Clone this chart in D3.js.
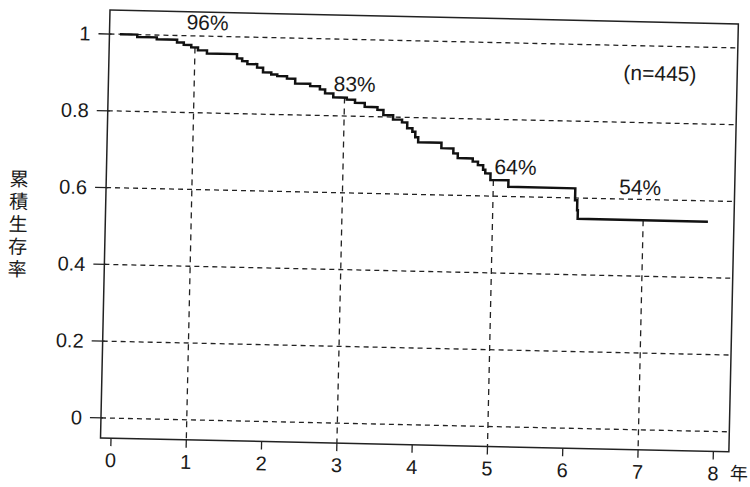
<!DOCTYPE html>
<html>
  <head>
    <meta charset="utf-8">
    <title>累積生存率</title>
    <script src="https://cdn.jsdelivr.net/npm/d3@7"></script>
    <style>
      body {
        margin: 0;
        background-color: white;
      }
      svg text {
        font-family: "Liberation Sans", Arial, sans-serif;
        fill: #1a1a1a;
      }
    </style>
  </head>
  <body>
    <script>
      // Kaplan-Meier steps: time (years) and survival after each step
      const times = [0, 0.23, 0.49, 0.76, 0.85, 0.95, 1.04, 1.16, 1.56, 1.63, 1.70, 1.83, 1.91, 2.02, 2.10,
                     2.23, 2.34, 2.54, 2.67, 2.74, 2.85, 3.03, 3.14, 3.27, 3.44, 3.52, 3.65, 3.77, 3.84,
                     3.91, 3.95, 3.99, 4.30, 4.46, 4.52, 4.72, 4.79, 4.86, 4.89, 4.96, 5.20, 6.09, 6.12,
                     6.13, 7.86];
      const survival = [1, 0.994, 0.989, 0.982, 0.976, 0.970, 0.963, 0.955, 0.944, 0.937, 0.930, 0.921, 0.909, 0.904, 0.900,
                        0.894, 0.882, 0.876, 0.868, 0.858, 0.848, 0.843, 0.835, 0.825, 0.818, 0.805, 0.794, 0.787, 0.772,
                        0.763, 0.749, 0.736, 0.722, 0.709, 0.697, 0.689, 0.680, 0.668, 0.659, 0.642, 0.625, 0.594, 0.568,
                        0.546, 0.546];

      const xTicks = [0, 1, 2, 3, 4, 5, 6, 7, 8];
      const yTicks = [0, 0.2, 0.4, 0.6, 0.8, 1];
      const yTickLabels = ['0', '0.2', '0.4', '0.6', '0.8', '1'];
      const markYears = [1, 3, 5, 7];

      const noteTexts = ['96%', '83%', '64%', '54%', '(n=445)'];
      const noteT = [1.16, 3.13, 5.29, 6.95, 7.18];
      const noteV = [1.036, 0.884, 0.677, 0.632, 0.930];

      const yTitle = ['累', '積', '生', '存', '率'];

      const w = 750;
      const h = 487;
      const box = {left: 110, top: 10, right: 738.5, bottom: 438};

      const x = d3.scaleLinear().domain([0, 8]).range([120.5, 723]);
      const y = d3.scaleLinear().domain([0, 1]).range([418, 34]);

      const svg = d3.select('body')
                    .append('svg')
                    .attr('width', w)
                    .attr('height', h);

      // the printed page sits slightly askew
      const g = svg.append('g')
                   .attr('transform', `rotate(1.27, ${box.left}, ${box.top})`);

      // horizontal grid with little ticks poking out left
      g.selectAll('.hgrid')
       .data(yTicks)
       .enter()
       .append('line')
       .attr('class', 'hgrid')
       .attr('x1', box.left)
       .attr('x2', box.right)
       .attr('y1', d => y(d))
       .attr('y2', d => y(d))
       .style('stroke', '#222')
       .style('stroke-width', 1.3)
       .style('stroke-dasharray', '5,4');

      g.selectAll('.ytick')
       .data(yTicks)
       .enter()
       .append('line')
       .attr('class', 'ytick')
       .attr('x1', box.left - 11)
       .attr('x2', box.left + 2)
       .attr('y1', d => y(d))
       .attr('y2', d => y(d))
       .style('stroke', '#222')
       .style('stroke-width', 1.3);

      g.selectAll('.ylabel')
       .data(yTicks)
       .enter()
       .append('text')
       .attr('class', 'ylabel')
       .attr('x', box.left - 19)
       .attr('y', d => y(d) + 7)
       .attr('text-anchor', 'end')
       .style('font-size', '20px')
       .text((d, i) => yTickLabels[i]);

      // survival at a given time
      const survAt = t => survival[d3.bisectRight(times, t) - 1];

      g.selectAll('.vgrid')
       .data(markYears)
       .enter()
       .append('line')
       .attr('class', 'vgrid')
       .attr('x1', d => x(d))
       .attr('x2', d => x(d))
       .attr('y1', d => y(survAt(d)))
       .attr('y2', box.bottom)
       .style('stroke', '#222')
       .style('stroke-width', 1.3)
       .style('stroke-dasharray', '6,5');

      // x ticks below frame
      g.selectAll('.xtick')
       .data(xTicks)
       .enter()
       .append('line')
       .attr('class', 'xtick')
       .attr('x1', d => x(d))
       .attr('x2', d => x(d))
       .attr('y1', box.bottom)
       .attr('y2', box.bottom + 8)
       .style('stroke', '#222')
       .style('stroke-width', 1.3);

      g.selectAll('.xlabel')
       .data(xTicks)
       .enter()
       .append('text')
       .attr('class', 'xlabel')
       .attr('x', d => x(d))
       .attr('y', 467)
       .attr('text-anchor', 'middle')
       .style('font-size', '20px')
       .text(d => d);

      g.append('text')
       .attr('x', x(8) + 26)
       .attr('y', 466)
       .attr('text-anchor', 'middle')
       .style('font-family', '"Noto Sans CJK JP", sans-serif')
       .style('font-size', '18px')
       .text('年');

      // frame
      g.append('rect')
       .attr('x', box.left)
       .attr('y', box.top)
       .attr('width', box.right - box.left)
       .attr('height', box.bottom - box.top)
       .style('fill', 'none')
       .style('stroke', '#222')
       .style('stroke-width', 1.5);

      // KM curve
      const line = d3.line()
                     .x((d, i) => x(times[i]))
                     .y(d => y(d))
                     .curve(d3.curveStepAfter);

      g.append('path')
       .datum(survival)
       .attr('d', line)
       .style('fill', 'none')
       .style('stroke', '#111')
       .style('stroke-width', 2.5);

      g.selectAll('.note')
       .data(noteTexts)
       .enter()
       .append('text')
       .attr('class', 'note')
       .attr('x', (d, i) => x(noteT[i]))
       .attr('y', (d, i) => y(noteV[i]) + 7.5)
       .attr('text-anchor', 'middle')
       .style('font-size', '21px')
       .text(d => d);

      g.selectAll('.ytitle')
       .data(yTitle)
       .enter()
       .append('text')
       .attr('class', 'ytitle')
       .attr('x', 23)
       .attr('y', (d, i) => 188 + i * 22.5)
       .attr('text-anchor', 'middle')
       .style('font-family', '"Noto Sans CJK JP", sans-serif')
       .style('font-size', '19px')
       .text(d => d);
    </script>
  </body>
</html>
